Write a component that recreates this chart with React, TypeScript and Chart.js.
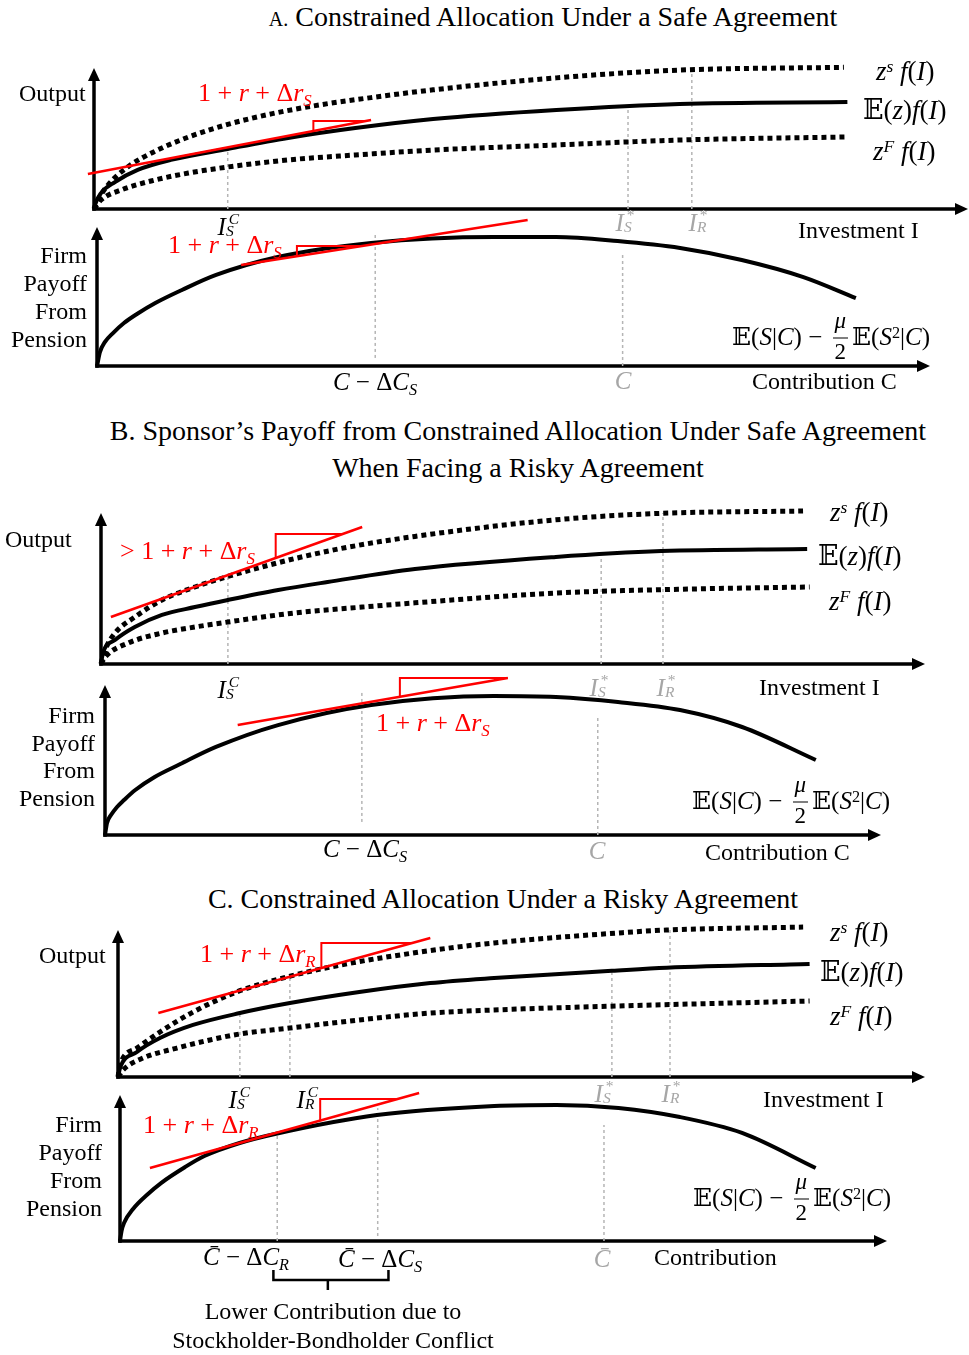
import React, { useEffect, useRef } from "react";
import { Chart, registerables } from "chart.js";

Chart.register(...registerables);

// ---------- DATA (each panel: x and y run 0..100 from the origin to the arrow tips) ----------
// Panel A, top: output vs investment
const A_TOP_ZS_X = [0, 0.5, 1.6, 3.9, 7.0, 10.8, 15.3, 20.3, 26.0, 31.7, 38.8, 52.9, 67.0, 85.8];
const A_TOP_ZS_Y = [0, 7, 17, 30, 41, 51, 60, 67.5, 74, 79, 84.5, 93, 98.5, 100.5];
const A_TOP_EZ_X = [0, 0.1, 0.8, 2.4, 5.0, 8.8, 15.3, 22.2, 29.9, 38.8, 52.9, 67.0, 86.2];
const A_TOP_EZ_Y = [0, 2.8, 11.3, 19.1, 27.7, 34.8, 42.6, 50.4, 57.4, 63.8, 70.2, 74.5, 75.9];
const A_TOP_ZF_X = [0, 0.8, 3.1, 7.0, 10.8, 15.3, 22.2, 29.9, 38.8, 52.9, 67.0, 86.2];
const A_TOP_ZF_Y = [0, 6.4, 13.5, 20.6, 25.5, 29.8, 34.8, 38.3, 41.8, 45.4, 48.9, 51.1];
const A_TOP_TAN_X = [-0.7, 31.7];
const A_TOP_TAN_Y = [24.8, 63.1];
const A_TOP_TRI_X = [25.1, 25.1, 31.1];
const A_TOP_TRI_Y = [55.3, 62.4, 62.4];
const A_TOP_GUIDE_X = [15.3, 61.1, 68.4]; // I_S^C, I_S*, I_R*
const A_TOP_GUIDE_TOP = [42.6, 72.0, 100.0];

// Panel A, bottom: firm payoff vs contribution
const A_BOT_PAY_X = [0, 0.36, 0.96, 1.92, 3.24, 4.8, 7.0, 10.2, 14.3, 21.7, 32.9, 47.7, 55.1, 62.5, 70.0, 77.4, 84.8, 91.1];
const A_BOT_PAY_Y = [0, 10.1, 17.3, 23.7, 30.9, 37.4, 45.3, 54.7, 65.5, 78.4, 88.5, 92.8, 92.8, 89.9, 84.9, 76.3, 64.0, 48.9];
const A_BOT_TAN_X = [17.3, 51.7];
const A_BOT_TAN_Y = [72.7, 105.0];
const A_BOT_TRI_X = [24.0, 24.0, 31.8];
const A_BOT_TRI_Y = [79.0, 86.3, 86.3];
const A_BOT_GUIDE_X = [33.4, 63.1]; // C - dC_S, C
const A_BOT_GUIDE_TOP = [94.2, 79.9];
const A_BOT_GUIDE_BOT = [5.8, 0];

// Panel B, top
const B_TOP_ZS_X = [0, 0.5, 1.7, 4.1, 7.4, 11.4, 15.4, 19.5, 23.5, 29.6, 38.1, 55.2, 68.0, 85.2];
const B_TOP_ZS_Y = [0, 9.3, 20.5, 31.1, 42.4, 51.0, 58.0, 64.2, 69.8, 77.0, 84.5, 95.5, 99.8, 101.3];
const B_TOP_EZ_X = [0, 0.24, 1.7, 4.1, 7.4, 11.4, 15.4, 21.5, 27.5, 38.1, 55.2, 68.0, 85.7];
const B_TOP_EZ_Y = [0, 7.3, 15.9, 24.5, 32.5, 37.7, 42.4, 49.0, 54.3, 62.9, 70.9, 74.8, 76.2];
const B_TOP_ZF_X = [0, 0.5, 3.3, 7.4, 11.4, 15.4, 23.5, 31.7, 38.1, 55.2, 70.3, 86.0];
const B_TOP_ZF_Y = [0, 4.6, 13.9, 20.5, 24.5, 27.8, 33.8, 37.7, 40.5, 47.0, 49.5, 51.0];
const B_TOP_TAN_X = [1.2, 31.7];
const B_TOP_TAN_Y = [31.1, 90.7];
const B_TOP_TRI_X = [21.2, 21.2, 29.3];
const B_TOP_TRI_Y = [70.2, 86.1, 86.1];
const B_TOP_GUIDE_X = [15.4, 60.7, 68.2];
const B_TOP_GUIDE_TOP = [58.0, 70.9, 100.0];

// Panel B, bottom
const B_BOT_PAY_X = [0, 0.26, 0.77, 1.55, 2.45, 3.9, 6.4, 9.7, 14.3, 22.3, 34.3, 50.1, 58.1, 66.1, 74.1, 82.1, 91.6];
const B_BOT_PAY_Y = [0, 8.0, 13.3, 18.7, 23.3, 30.0, 38.7, 47.3, 58.7, 73.3, 86.7, 92.7, 92.0, 88.7, 83.3, 72.0, 50.0];
const B_BOT_TAN_X = [17.1, 51.9];
const B_BOT_TAN_Y = [73.3, 104.7];
const B_BOT_TRI_X = [38.0, 38.0, 51.9];
const B_BOT_TRI_Y = [92.2, 104.7, 104.7];
const B_BOT_GUIDE_X = [33.1, 63.5];
const B_BOT_GUIDE_TOP = [96.7, 80.0];
const B_BOT_GUIDE_BOT = [8.7, 0];

// Panel C, top
const C_TOP_ZS_X = [0, 0.25, 2.35, 5.2, 9.3, 14.7, 20.9, 27.9, 38.7, 46.6, 62.0, 68.0, 84.9];
const C_TOP_ZS_Y = [0, 8.2, 19.7, 30.6, 44.2, 57.8, 68.0, 76.5, 86.0, 91.2, 98.0, 100, 102.0];
const C_TOP_EZ_X = [0, 0.25, 2.35, 5.2, 9.3, 15.1, 21.3, 29.9, 38.7, 46.6, 61.2, 68.0, 85.7];
const C_TOP_EZ_Y = [0, 6.1, 17.0, 26.5, 35.4, 43.5, 50.3, 57.8, 63.9, 67.3, 72.2, 74.3, 76.9];
const C_TOP_ZF_X = [0, 0.62, 3.1, 7.3, 11.4, 15.1, 21.3, 29.9, 38.7, 46.6, 62.0, 85.7];
const C_TOP_ZF_Y = [0, 4.8, 12.9, 19.7, 25.2, 29.3, 33.3, 38.8, 43.5, 45.6, 48.3, 51.7];
const C_TOP_TAN_X = [5.0, 38.7];
const C_TOP_TAN_Y = [43.5, 94.6];
const C_TOP_TRI_X = [25.2, 25.2, 36.5];
const C_TOP_TRI_Y = [74.1, 91.2, 91.2];
const C_TOP_GUIDE_X = [15.1, 21.3, 61.2, 68.4]; // I_S^C, I_R^C, I_S*, I_R*
const C_TOP_GUIDE_TOP = [43.5, 68.3, 72.0, 100.0];

// Panel C, bottom
const C_BOT_PAY_X = [0, 0.2, 0.52, 1.7, 3.65, 5.35, 8.5, 11.0, 15.6, 20.2, 33.5, 48.8, 56.9, 65.0, 73.0, 81.1, 90.7];
const C_BOT_PAY_Y = [0, 6.8, 12.3, 21.9, 32.2, 39.7, 50.7, 58.2, 67.1, 73.3, 86.3, 92.5, 93.2, 91.1, 84.9, 74.0, 50.0];
const C_BOT_TAN_X = [3.9, 39.0];
const C_BOT_TAN_Y = [50.0, 101.4];
const C_BOT_TRI_X = [26.1, 26.1, 36.2];
const C_BOT_TRI_Y = [82.5, 97.3, 97.3];
const C_BOT_GUIDE_X = [20.5, 33.6, 63.1];
const C_BOT_GUIDE_TOP = [72.6, 91.0, 79.5];
const C_BOT_GUIDE_BOT = [0, 3.4, 0];
const C_BOT_BRACE_X = [20.0, 20.0, 35.0, 35.0];
const C_BOT_BRACE_Y = [-19.9, -26.7, -26.7, -19.9];
const C_BOT_STEM_X = [27.1, 27.1];
const C_BOT_STEM_Y = [-26.7, -33.6];

// ---------- dataset helpers ----------
const pts = (xs: number[], ys: number[]) => xs.map((x, i) => ({ x, y: ys[i] }));
const dotted = (xs: number[], ys: number[]) => ({
  data: pts(xs, ys), borderColor: "#000", borderWidth: 5, borderDash: [5, 4], borderCapStyle: "butt",
  cubicInterpolationMode: "monotone", pointRadius: 0, fill: false, clip: false, order: 2,
});
const solid = (xs: number[], ys: number[], w = 4) => ({
  data: pts(xs, ys), borderColor: "#000", borderWidth: w, borderCapStyle: "butt",
  cubicInterpolationMode: "monotone", pointRadius: 0, fill: false, clip: false, order: 2,
});
const straight = (xs: number[], ys: number[], color: string, w: number) => ({
  data: pts(xs, ys), borderColor: color, borderWidth: w, tension: 0, pointRadius: 0,
  fill: false, clip: false, order: 1, borderJoinStyle: "miter",
});
const guides = (xs: number[], tops: number[], bots?: number[]) =>
  xs.map((x, i) => ({
    data: [{ x, y: bots ? bots[i] : 0 }, { x, y: tops[i] }], borderColor: "#b5b5b5", borderWidth: 1.5,
    borderDash: [3, 3], pointRadius: 0, fill: false, clip: false, order: 3,
  }));

const RED = "#ff0000";

type PanelSpec = { band: [number, number]; ox: number; oy: number; xTip: number; yTip: number; datasets: any[] };

const PANELS: PanelSpec[] = [
  {
    band: [48, 218], ox: 94, oy: 209, xTip: 968, yTip: 68,
    datasets: [
      straight(A_TOP_TAN_X, A_TOP_TAN_Y, RED, 2.5), straight(A_TOP_TRI_X, A_TOP_TRI_Y, RED, 2),
      dotted(A_TOP_ZS_X, A_TOP_ZS_Y), solid(A_TOP_EZ_X, A_TOP_EZ_Y, 4), dotted(A_TOP_ZF_X, A_TOP_ZF_Y),
      ...guides(A_TOP_GUIDE_X, A_TOP_GUIDE_TOP),
    ],
  },
  {
    band: [218, 376], ox: 97, oy: 366, xTip: 930, yTip: 227,
    datasets: [
      straight(A_BOT_TAN_X, A_BOT_TAN_Y, RED, 2.5), straight(A_BOT_TRI_X, A_BOT_TRI_Y, RED, 2),
      solid(A_BOT_PAY_X, A_BOT_PAY_Y, 4), ...guides(A_BOT_GUIDE_X, A_BOT_GUIDE_TOP, A_BOT_GUIDE_BOT),
    ],
  },
  {
    band: [500, 673], ox: 101, oy: 664, xTip: 925, yTip: 513,
    datasets: [
      straight(B_TOP_TAN_X, B_TOP_TAN_Y, RED, 2.5), straight(B_TOP_TRI_X, B_TOP_TRI_Y, RED, 2),
      dotted(B_TOP_ZS_X, B_TOP_ZS_Y), solid(B_TOP_EZ_X, B_TOP_EZ_Y, 4), dotted(B_TOP_ZF_X, B_TOP_ZF_Y),
      ...guides(B_TOP_GUIDE_X, B_TOP_GUIDE_TOP),
    ],
  },
  {
    band: [673, 845], ox: 105, oy: 835, xTip: 881, yTip: 685,
    datasets: [
      straight(B_BOT_TAN_X, B_BOT_TAN_Y, RED, 2.5), straight(B_BOT_TRI_X, B_BOT_TRI_Y, RED, 2),
      solid(B_BOT_PAY_X, B_BOT_PAY_Y, 4), ...guides(B_BOT_GUIDE_X, B_BOT_GUIDE_TOP, B_BOT_GUIDE_BOT),
    ],
  },
  {
    band: [915, 1086], ox: 118, oy: 1077, xTip: 925, yTip: 930,
    datasets: [
      straight(C_TOP_TAN_X, C_TOP_TAN_Y, RED, 2.5), straight(C_TOP_TRI_X, C_TOP_TRI_Y, RED, 2),
      dotted(C_TOP_ZS_X, C_TOP_ZS_Y), solid(C_TOP_EZ_X, C_TOP_EZ_Y, 4), dotted(C_TOP_ZF_X, C_TOP_ZF_Y),
      ...guides(C_TOP_GUIDE_X, C_TOP_GUIDE_TOP),
    ],
  },
  {
    band: [1086, 1300], ox: 120, oy: 1241, xTip: 887, yTip: 1095,
    datasets: [
      straight(C_BOT_TAN_X, C_BOT_TAN_Y, RED, 2.5), straight(C_BOT_TRI_X, C_BOT_TRI_Y, RED, 2),
      solid(C_BOT_PAY_X, C_BOT_PAY_Y, 4), ...guides(C_BOT_GUIDE_X, C_BOT_GUIDE_TOP, C_BOT_GUIDE_BOT),
      straight(C_BOT_BRACE_X, C_BOT_BRACE_Y, "#000", 2.5), straight(C_BOT_STEM_X, C_BOT_STEM_Y, "#000", 2.5),
    ],
  },
];

// ---------- axes with arrowheads ----------
const arrowAxes = {
  id: "arrowAxes",
  beforeDatasetsDraw(chart: any) {
    const { ctx, chartArea } = chart;
    const { left, right, top, bottom } = chartArea;
    const ah = 13, aw = 6;
    ctx.save();
    ctx.strokeStyle = "#000";
    ctx.fillStyle = "#000";
    ctx.lineWidth = 3.5;
    ctx.beginPath();
    ctx.moveTo(left - 1.75, bottom);
    ctx.lineTo(right - ah + 1, bottom);
    ctx.stroke();
    ctx.beginPath();
    ctx.moveTo(right, bottom);
    ctx.lineTo(right - ah, bottom - aw);
    ctx.lineTo(right - ah, bottom + aw);
    ctx.closePath();
    ctx.fill();
    ctx.beginPath();
    ctx.moveTo(left, bottom + 1.75);
    ctx.lineTo(left, top + ah - 1);
    ctx.stroke();
    ctx.beginPath();
    ctx.moveTo(left, top);
    ctx.lineTo(left - aw, top + ah);
    ctx.lineTo(left + aw, top + ah);
    ctx.closePath();
    ctx.fill();
    ctx.restore();
  },
};

function Panel({ spec }: { spec: PanelSpec }) {
  const ref = useRef<HTMLCanvasElement>(null);
  const [bt, bb] = spec.band;
  useEffect(() => {
    const chart = new Chart(ref.current as HTMLCanvasElement, {
      type: "line",
      data: { datasets: spec.datasets as any },
      options: {
        responsive: false,
        animation: false,
        devicePixelRatio: 1,
        events: [],
        layout: { padding: { left: spec.ox, right: 969 - spec.xTip, top: spec.yTip - bt, bottom: bb - spec.oy } },
        scales: {
          x: { type: "linear", min: 0, max: 100, display: false },
          y: { type: "linear", min: 0, max: 100, display: false },
        },
        plugins: { legend: { display: false }, tooltip: { enabled: false } },
      } as any,
      plugins: [arrowAxes],
    });
    return () => chart.destroy();
  }, []);
  return (
    <canvas ref={ref} width={969} height={bb - bt}
      style={{ position: "absolute", left: 0, top: bt, width: 969, height: bb - bt }} />
  );
}

// ---------- text helpers ----------
const SERIF = '"Liberation Serif", "Times New Roman", "DejaVu Serif", serif';
const MATH = '"Liberation Serif", "DejaVu Serif", "DejaVu Sans", serif';

type LP = { x: number; y: number; a?: "l" | "c" | "r"; s?: number; c?: string; lh?: number; f?: string; children: React.ReactNode };
function L({ x, y, a = "l", s = 24, c = "#000", lh = 1, f = SERIF, children }: LP) {
  const tx = a === "l" ? "0" : a === "c" ? "-50%" : "-100%";
  return (
    <div style={{
      position: "absolute", left: x, top: y, transform: `translate(${tx},-50%)`, fontSize: s, color: c,
      fontFamily: f, whiteSpace: "pre", lineHeight: lh, textAlign: a === "r" ? "right" : a === "c" ? "center" : "left",
    }}>{children}</div>
  );
}
const Sup = ({ children }: { children: React.ReactNode }) => (
  <span style={{ position: "relative", top: "-0.45em", fontSize: "0.65em" }}>{children}</span>
);
const Sub = ({ children }: { children: React.ReactNode }) => (
  <span style={{ position: "relative", top: "0.3em", fontSize: "0.65em" }}>{children}</span>
);
const Stack = ({ sup, sub }: { sup: React.ReactNode; sub: React.ReactNode }) => (
  <span style={{ display: "inline-block", position: "relative", width: "0.58em", height: "1em" }}>
    <span style={{ position: "absolute", left: "0.18em", top: "0.04em", fontSize: "0.62em", lineHeight: 1 }}>{sup}</span>
    <span style={{ position: "absolute", left: "0.0em", top: "0.86em", fontSize: "0.62em", lineHeight: 1 }}>{sub}</span>
  </span>
);
const IS = ({ sup, sub }: { sup: string; sub: string }) => (
  <><i>I</i><Stack sup={sup === "*" ? "*" : <i>{sup}</i>} sub={<i>{sub}</i>} /></>
);
const Frac = () => (
  <span style={{ display: "inline-block", position: "relative", width: "0.7em", height: "1em", margin: "0 0.12em" }}>
    <span style={{ position: "absolute", left: 0, right: 0, textAlign: "center", top: "-0.48em", fontSize: "0.92em", lineHeight: 1, fontStyle: "italic" }}>μ</span>
    <span style={{ position: "absolute", left: "0.05em", right: "0.05em", top: "0.7em", borderTop: "1.5px solid currentColor" }} />
    <span style={{ position: "absolute", left: 0, right: 0, textAlign: "center", top: "0.86em", fontSize: "0.92em", lineHeight: 1 }}>2</span>
  </span>
);
const Formula = () => (
  <>𝔼(<i>S</i>|<i>C</i>) − <Frac />𝔼(<i>S</i><Sup>2</Sup>|<i>C</i>)</>
);
const Rate = ({ sub, gt }: { sub: string; gt?: boolean }) => (
  <>{gt ? "> " : ""}1 + <i>r</i> + Δ<i>r</i><Sub><i>{sub}</i></Sub></>
);
const ZS = () => (<><i>z</i><Sup><i>s</i></Sup> <i>f</i>(<i>I</i>)</>);
const ZF = () => (<><i>z</i><Sup><i>F</i></Sup> <i>f</i>(<i>I</i>)</>);
const EZ = () => (<>𝔼(<i>z</i>)<i>f</i>(<i>I</i>)</>);
const CD = ({ sub, bar }: { sub: string; bar?: boolean }) => (
  <><i>{bar ? "C\u0304" : "C"}</i> − Δ<i>C</i><Sub><i>{sub}</i></Sub></>
);

const GRAY = "#a6a6a6";
const FIRM = "Firm\nPayoff\nFrom\nPension";

export default function App() {
  return (
    <div style={{ position: "absolute", left: 0, top: 0, width: 969, height: 1355, background: "#fff", overflow: "hidden" }}>
      {PANELS.map((p, i) => <Panel key={i} spec={p} />)}

      {/* Titles */}
      <L x={553} y={17} a="c" s={28}><span style={{ fontSize: 20 }}>A.</span> Constrained Allocation Under a Safe Agreement</L>
      <L x={518} y={431} a="c" s={28}>B. Sponsor’s Payoff from Constrained Allocation Under Safe Agreement</L>
      <L x={518} y={468} a="c" s={28}>When Facing a Risky Agreement</L>
      <L x={503} y={899} a="c" s={28}>C. Constrained Allocation Under a Risky Agreement</L>

      {/* Panel A top */}
      <L x={19} y={93}>Output</L>
      <L x={198} y={93} c={RED} s={26} f={MATH}><Rate sub="S" /></L>
      <L x={229} y={224} a="c" s={25} f={MATH}><IS sup="C" sub="S" /></L>
      <L x={627} y={220} a="c" s={25} f={MATH} c={GRAY}><IS sup="*" sub="S" /></L>
      <L x={700} y={220} a="c" s={25} f={MATH} c={GRAY}><IS sup="*" sub="R" /></L>
      <L x={798} y={230}>Investment I</L>
      <L x={876} y={71} s={27} f={MATH}><ZS /></L>
      <L x={863} y={110} s={27} f={MATH}><EZ /></L>
      <L x={873} y={151} s={27} f={MATH}><ZF /></L>

      {/* Panel A bottom */}
      <L x={168} y={245} c={RED} s={26} f={MATH}><Rate sub="S" /></L>
      <L x={87} y={297} a="r" lh={1.17}>{FIRM}</L>
      <L x={375} y={381} a="c" s={25} f={MATH}><CD sub="S" /></L>
      <L x={623} y={380} a="c" s={25} f={MATH} c={GRAY}><i>C</i></L>
      <L x={752} y={381}>Contribution C</L>
      <L x={732} y={334} s={25} f={MATH}><Formula /></L>

      {/* Panel B top */}
      <L x={5} y={539}>Output</L>
      <L x={120} y={551} c={RED} s={26} f={MATH}><Rate sub="S" gt /></L>
      <L x={229} y={687} a="c" s={25} f={MATH}><IS sup="C" sub="S" /></L>
      <L x={601} y={685} a="c" s={25} f={MATH} c={GRAY}><IS sup="*" sub="S" /></L>
      <L x={668} y={685} a="c" s={25} f={MATH} c={GRAY}><IS sup="*" sub="R" /></L>
      <L x={759} y={687}>Investment I</L>
      <L x={830} y={512} s={27} f={MATH}><ZS /></L>
      <L x={818} y={556} s={27} f={MATH}><EZ /></L>
      <L x={829} y={601} s={27} f={MATH}><ZF /></L>

      {/* Panel B bottom */}
      <L x={376} y={723} c={RED} s={26} f={MATH}><Rate sub="S" /></L>
      <L x={95} y={757} a="r" lh={1.15}>{FIRM}</L>
      <L x={365} y={848} a="c" s={25} f={MATH}><CD sub="S" /></L>
      <L x={597} y={850} a="c" s={25} f={MATH} c={GRAY}><i>C</i></L>
      <L x={705} y={852}>Contribution C</L>
      <L x={692} y={798} s={25} f={MATH}><Formula /></L>

      {/* Panel C top */}
      <L x={39} y={955}>Output</L>
      <L x={200} y={954} c={RED} s={26} f={MATH}><Rate sub="R" /></L>
      <L x={240} y={1097} a="c" s={25} f={MATH}><IS sup="C" sub="S" /></L>
      <L x={308} y={1097} a="c" s={25} f={MATH}><IS sup="C" sub="R" /></L>
      <L x={606} y={1091} a="c" s={25} f={MATH} c={GRAY}><IS sup="*" sub="S" /></L>
      <L x={673} y={1091} a="c" s={25} f={MATH} c={GRAY}><IS sup="*" sub="R" /></L>
      <L x={763} y={1099}>Investment I</L>
      <L x={830} y={932} s={27} f={MATH}><ZS /></L>
      <L x={820} y={972} s={27} f={MATH}><EZ /></L>
      <L x={830} y={1016} s={27} f={MATH}><ZF /></L>

      {/* Panel C bottom */}
      <L x={143} y={1125} c={RED} s={26} f={MATH}><Rate sub="R" /></L>
      <L x={102} y={1166} a="r" lh={1.17}>{FIRM}</L>
      <L x={203} y={1256} s={25} f={MATH}><CD sub="R" bar /></L>
      <L x={338} y={1258} s={25} f={MATH}><CD sub="S" bar /></L>
      <L x={602} y={1258} a="c" s={25} f={MATH} c={GRAY}><i>C̄</i></L>
      <L x={654} y={1257}>Contribution</L>
      <L x={693} y={1195} s={25} f={MATH}><Formula /></L>
      <L x={333} y={1311} a="c">Lower Contribution due to</L>
      <L x={333} y={1340} a="c">Stockholder-Bondholder Conflict</L>
    </div>
  );
}
